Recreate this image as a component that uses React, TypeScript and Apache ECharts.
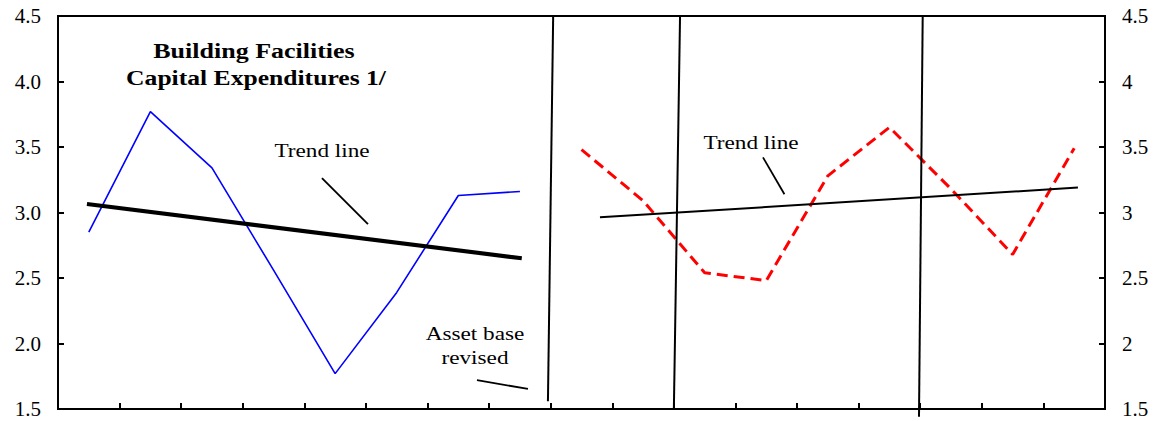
import React, { useEffect, useRef } from "react";
import * as echarts from "echarts";

// x positions are category slots on a 0..17 value axis (slot centres at k + 0.5)
const blueX = [0.5, 1.5, 2.5, 3.5, 4.5, 5.5, 6.5, 7.5];
const blueY = [2.85, 3.77, 3.34, 2.56, 1.77, 2.39, 3.13, 3.16];
const redX = [8.5, 9.5, 10.5, 11.5, 12.5, 13.5, 14.5, 15.5, 16.5];
const redY = [3.48, 3.09, 2.54, 2.48, 3.28, 3.65, 3.18, 2.68, 3.49];
const trendLeftX = [0.47, 7.53];
const trendLeftY = [3.065, 2.65];
const trendRightX = [8.8, 16.56];
const trendRightY = [2.963, 3.19];
const vline1X = [8.04, 7.955];
const vline1Y = [4.5, 1.56];
const vline2X = [10.1, 10.0];
const vline2Y = [4.5, 1.5];
const vline3X = [14.04, 13.98];
const vline3Y = [4.5, 1.44];
const pointerLeftX = [4.286, 5.033];
const pointerLeftY = [3.263, 2.912];
const pointerRightX = [11.447, 11.795];
const pointerRightY = [3.421, 3.139];
const pointerAssetX = [6.803, 7.631];
const pointerAssetY = [1.721, 1.653];
const yTicks = [1.5, 2.0, 2.5, 3.0, 3.5, 4.0, 4.5];

const pairs = (xs: number[], ys: number[]) => xs.map((x, i) => [x, ys[i]]);

const FONT = "Liberation Serif";

function lineSeries(data: number[][], color: string, width: number, type: any = "solid") {
  return {
    type: "line",
    data,
    symbol: "none",
    clip: false,
    silent: true,
    lineStyle: { color, width, type },
    z: 2,
  };
}

function txt(text: string, x: number, y: number, size: number, bold = false, sx = 1.19) {
  return {
    type: "text",
    x,
    y,
    scaleX: sx,
    style: {
      text,
      x: 0,
      y: 0,
      fill: "#000",
      font: `${bold ? "bold " : ""}${size}px "${FONT}"`,
      align: "center",
      verticalAlign: "middle",
    },
    z: 10,
  };
}

export default function App() {
  const ref = useRef<HTMLDivElement>(null);
  useEffect(() => {
    if (!ref.current) return;
    const chart = echarts.init(ref.current, undefined, { renderer: "svg" });
    const axisLabel = { color: "#000", fontFamily: FONT, fontSize: 21, margin: 17 };
    const tick = { show: true, inside: true, length: 6, lineStyle: { color: "#000", width: 2 } };
    const line = { show: true, lineStyle: { color: "#000", width: 2 } };
    chart.setOption({
      animation: false,
      backgroundColor: "#fff",
      grid: {
        left: 58,
        right: 55,
        top: 16,
        bottom: 12,
        show: true,
        borderColor: "#000",
        borderWidth: 2,
        containLabel: false,
      },
      xAxis: {
        type: "value",
        min: 0,
        max: 17,
        interval: 1,
        axisLine: line,
        axisTick: tick,
        axisLabel: { show: false },
        splitLine: { show: false },
      },
      yAxis: [
        {
          type: "value",
          min: yTicks[0],
          max: yTicks[yTicks.length - 1],
          interval: 0.5,
          position: "left",
          axisLine: line,
          axisTick: tick,
          axisLabel: { ...axisLabel, formatter: (v: number) => v.toFixed(1) },
          splitLine: { show: false },
        },
        {
          type: "value",
          min: yTicks[0],
          max: yTicks[yTicks.length - 1],
          interval: 0.5,
          position: "right",
          axisLine: line,
          axisTick: tick,
          axisLabel: { ...axisLabel, formatter: (v: number) => String(v) },
          splitLine: { show: false },
        },
      ],
      series: [
        lineSeries(pairs(blueX, blueY), "#0000ff", 1.6),
        lineSeries(pairs(redX, redY), "#ff0000", 3, [11, 6]),
        lineSeries(pairs(trendLeftX, trendLeftY), "#000", 4),
        lineSeries(pairs(trendRightX, trendRightY), "#000", 2),
        lineSeries(pairs(vline1X, vline1Y), "#000", 2),
        lineSeries(pairs(vline2X, vline2Y), "#000", 2),
        lineSeries(pairs(vline3X, vline3Y), "#000", 2),
        lineSeries(pairs(pointerLeftX, pointerLeftY), "#000", 1.8),
        lineSeries(pairs(pointerRightX, pointerRightY), "#000", 1.8),
        lineSeries(pairs(pointerAssetX, pointerAssetY), "#000", 1.8),
      ],
      graphic: [
        txt("Building Facilities", 254, 51, 20, true, 1.3),
        txt("Capital Expenditures 1/", 256, 78, 20, true, 1.28),
        txt("Trend line", 322, 151, 19.5),
        txt("Trend line", 751, 143, 19.5),
        txt("Asset base", 475, 334, 19.5),
        txt("revised", 475, 358, 19.5),
      ],
    });
    return () => chart.dispose();
  }, []);
  return (
    <div
      ref={ref}
      style={{ position: "fixed", left: 0, top: 0, width: 1160, height: 421, background: "#fff" }}
    />
  );
}
